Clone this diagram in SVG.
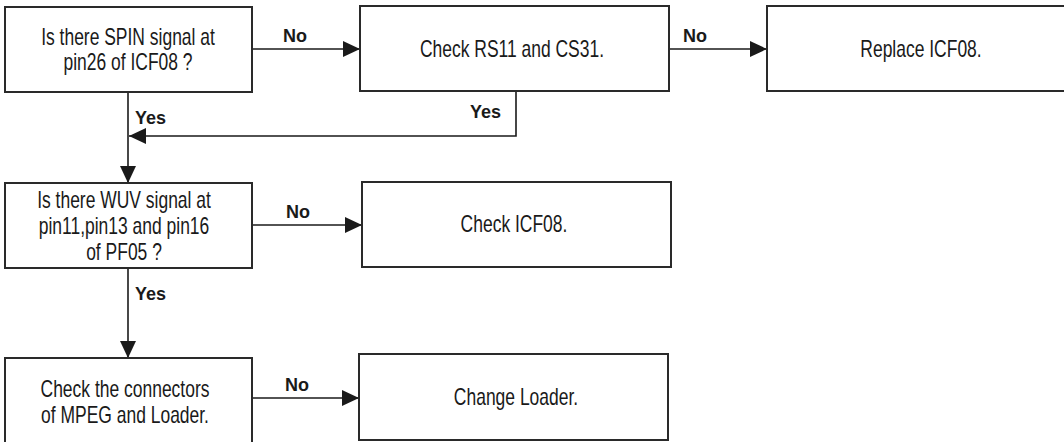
<svg xmlns="http://www.w3.org/2000/svg" width="1064" height="442" viewBox="0 0 1064 442">
<defs>
<style>
.box{fill:#fff;stroke:#2a2a2a;stroke-width:2}
.t{font-family:"Liberation Sans",Arial,sans-serif;font-size:23px;fill:#1a1a1a;text-anchor:middle}
.lbl{font-family:"Liberation Sans",Arial,sans-serif;font-size:18px;font-weight:bold;fill:#1a1a1a}
.ln{fill:none;stroke:#1a1a1a;stroke-width:1.6}
</style>
<marker id="ah" viewBox="0 0 17 16" refX="17" refY="8" markerWidth="17" markerHeight="16" markerUnits="userSpaceOnUse" orient="auto">
<path d="M0,0 L17,8 L0,16 Z" fill="#1a1a1a"/>
</marker>
</defs>
<rect width="1064" height="442" fill="#fff"/>
<g id="connectors">
<line class="ln" x1="252" y1="49" x2="360" y2="49" marker-end="url(#ah)"/>
<line class="ln" x1="669" y1="49" x2="767" y2="49" marker-end="url(#ah)"/>
<polyline class="ln" points="516,91 516,136 129,136" marker-end="url(#ah)"/>
<line class="ln" x1="128" y1="92" x2="128" y2="183" marker-end="url(#ah)"/>
<line class="ln" x1="252" y1="225" x2="362" y2="225" marker-end="url(#ah)"/>
<line class="ln" x1="128" y1="268" x2="128" y2="358" marker-end="url(#ah)"/>
<line class="ln" x1="252" y1="398" x2="359" y2="398" marker-end="url(#ah)"/>
<text class="lbl" x="283" y="42">No</text>
<text class="lbl" x="683" y="42">No</text>
<text class="lbl" x="470" y="118">Yes</text>
<text class="lbl" x="135" y="124">Yes</text>
<text class="lbl" x="286" y="218">No</text>
<text class="lbl" x="135" y="300">Yes</text>
<text class="lbl" x="285" y="391">No</text>
</g>
<g id="n1"><rect class="box" x="5" y="7" width="247" height="85"/>
<text class="t" transform="matrix(0.76,0,0,1,128,0)" x="0" y="45">Is there SPIN signal at</text>
<text class="t" transform="matrix(0.76,0,0,1,128,0)" x="0" y="70">pin26 of ICF08 ?</text></g>
<g id="n2"><rect class="box" x="360" y="6" width="309" height="85"/>
<text class="t" transform="matrix(0.76,0,0,1,512,0)" x="0" y="57">Check RS11 and CS31.</text></g>
<g id="n3"><rect class="box" x="767" y="6" width="310" height="85"/>
<text class="t" transform="matrix(0.76,0,0,1,921,0)" x="0" y="57">Replace ICF08.</text></g>
<g id="n4"><rect class="box" x="5" y="183" width="247" height="85"/>
<text class="t" transform="matrix(0.76,0,0,1,124,0)" x="0" y="208">Is there WUV signal at</text>
<text class="t" transform="matrix(0.76,0,0,1,124,0)" x="0" y="234">pin11,pin13 and pin16</text>
<text class="t" transform="matrix(0.76,0,0,1,124,0)" x="0" y="260">of PF05 ?</text></g>
<g id="n5"><rect class="box" x="362" y="182" width="309" height="85"/>
<text class="t" transform="matrix(0.76,0,0,1,514,0)" x="0" y="232">Check ICF08.</text></g>
<g id="n6"><rect class="box" x="5" y="358" width="247" height="95"/>
<text class="t" transform="matrix(0.76,0,0,1,125,0)" x="0" y="397">Check the connectors</text>
<text class="t" transform="matrix(0.76,0,0,1,125,0)" x="0" y="423">of MPEG and Loader.</text></g>
<g id="n7"><rect class="box" x="359" y="354" width="309" height="86"/>
<text class="t" transform="matrix(0.76,0,0,1,516,0)" x="0" y="405">Change Loader.</text></g>
</svg>
